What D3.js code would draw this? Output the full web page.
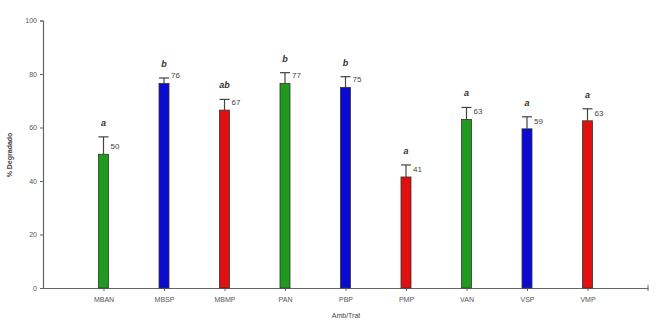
<!DOCTYPE html>
<html><head><meta charset="utf-8">
<script src="https://cdn.jsdelivr.net/npm/d3@7"></script>
<style>body{margin:0;background:#fff}svg{display:block}text{font-family:"Liberation Sans",Arial,sans-serif}</style>
</head><body>
<svg id="c" width="658" height="320"></svg>
<script>
const categories = ["MBAN","MBSP","MBMP","PAN","PBP","PMP","VAN","VSP","VMP"];
const values = [50, 76.5, 66.5, 76.5, 75, 41.5, 63, 59.5, 62.5];
const errors = [6.5, 2, 4, 4, 4, 4.5, 4.5, 4.5, 4.5];
const valueLabels = ["50","76","67","77","75","41","63","59","63"];
const letters = ["a","b","ab","b","b","a","a","a","a"];
const colors = ["#1f9a1f","#0a0ad0","#e01010","#1f9a1f","#0a0ad0","#e01010","#1f9a1f","#0a0ad0","#e01010"];
const yTicks = [0,20,40,60,80,100];

const svg = d3.select("#c");
const x0 = 43, x1 = 648, yTop = 20.5, yBot = 288;
const x = d3.scalePoint().domain(categories).range([x0, x1]).padding(1);
const y = d3.scaleLinear().domain([0,100]).range([yBot, yTop]);
const bw = 10;

// axes
const yAxis = svg.append("g").attr("transform",`translate(${x0},0)`)
  .call(d3.axisLeft(y).tickValues(yTicks).tickSize(3).tickPadding(3));
yAxis.select(".domain").attr("stroke","#666").attr("stroke-width",1.2);
yAxis.selectAll(".tick line").attr("stroke","#666");
yAxis.selectAll("text").attr("font-size",7).attr("fill","#555");

const xAxis = svg.append("g").attr("transform",`translate(0,${yBot})`)
  .call(d3.axisBottom(x).tickSize(3).tickPadding(6).tickSizeOuter(0));
xAxis.select(".domain").attr("stroke","#666").attr("stroke-width",1.2);
xAxis.selectAll(".tick line").attr("stroke","#666");
xAxis.selectAll("text").attr("font-size",7).attr("fill","#555");
svg.append("line").attr("x1",x1).attr("x2",x1).attr("y1",yBot-3).attr("y2",yBot+3).attr("stroke","#666");

// bars
svg.selectAll("rect.bar").data(categories).join("rect").attr("class","bar")
  .attr("x",d=>x(d)-bw/2).attr("width",bw)
  .attr("y",(d,i)=>y(values[i])).attr("height",(d,i)=>yBot-y(values[i]))
  .attr("fill",(d,i)=>colors[i]).attr("stroke","#333").attr("stroke-width",0.8);

// error bars
const eb = svg.selectAll("g.eb").data(categories).join("g").attr("class","eb");
eb.append("line").attr("x1",d=>x(d)).attr("x2",d=>x(d))
  .attr("y1",(d,i)=>y(values[i])).attr("y2",(d,i)=>y(values[i]+errors[i]))
  .attr("stroke","#444").attr("stroke-width",1.2);
eb.append("line").attr("x1",d=>x(d)-5).attr("x2",d=>x(d)+5)
  .attr("y1",(d,i)=>y(values[i]+errors[i])).attr("y2",(d,i)=>y(values[i]+errors[i]))
  .attr("stroke","#444").attr("stroke-width",1.2);

// value labels
svg.selectAll("text.val").data(categories).join("text").attr("class","val")
  .attr("x",d=>x(d)+7).attr("y",(d,i)=>y(values[i])-5)
  .attr("font-size",8).attr("fill","#444").text((d,i)=>valueLabels[i]);

// letters
svg.selectAll("text.let").data(categories).join("text").attr("class","let")
  .attr("x",d=>x(d)).attr("y",(d,i)=>y(values[i]+errors[i])-11)
  .attr("text-anchor","middle").attr("font-size",9).attr("font-style","italic").attr("font-weight","bold")
  .attr("fill","#333").text((d,i)=>letters[i]);

// titles
svg.append("text").attr("transform","translate(12,155) rotate(-90)").attr("text-anchor","middle")
  .attr("font-size",7).attr("font-weight","bold").attr("fill","#444").text("% Degradado");
svg.append("text").attr("x",346).attr("y",318).attr("text-anchor","middle")
  .attr("font-size",7).attr("fill","#444").text("Amb/Trat");
</script>
</body></html>
